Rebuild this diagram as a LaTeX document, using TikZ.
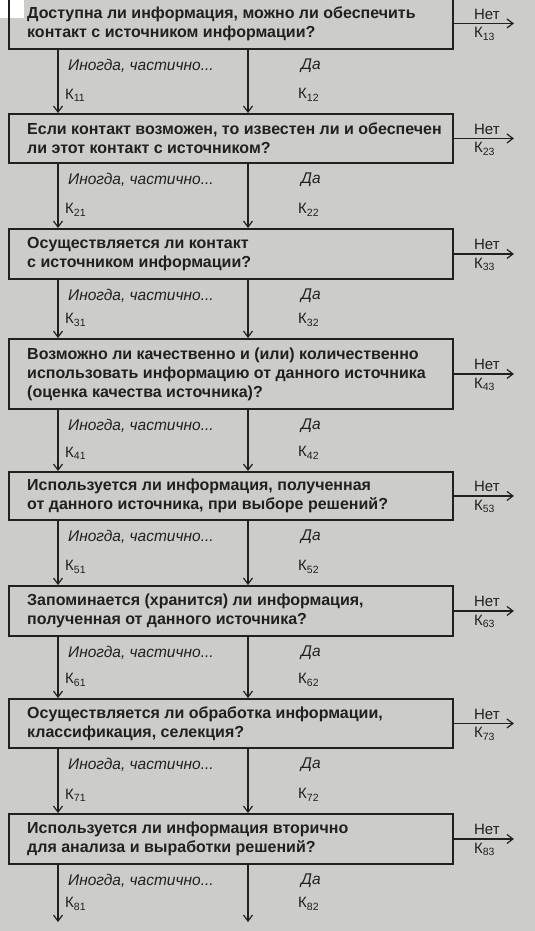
\documentclass[tikz,border=0pt]{standalone}
\usepackage{fontspec}
\setmainfont{Liberation Sans}
\usetikzlibrary{arrows.meta,positioning,calc}
\definecolor{scan}{RGB}{204,204,201}
\definecolor{ink}{RGB}{32,32,32}

\tikzset{
  qbox/.style={draw=ink, line width=1.9pt, minimum width=444pt, inner sep=0pt, anchor=north west},
  qtext/.style={anchor=west, align=left, inner sep=0pt, text=ink,
    font=\fontsize{16}{19}\selectfont\bfseries},
  lbl/.style={anchor=west, inner sep=0pt, text=ink, font=\fontsize{15.5}{17}\selectfont\itshape},
  kk/.style={anchor=west, inner sep=0pt, text=ink, font=\fontsize{15}{17}\selectfont},
  flow/.style={draw=ink, line width=1.2pt, ->},
}

\begin{document}
\begin{tikzpicture}[x=1pt,y=-1pt,>={Straight Barb[length=6pt,width=9pt]}]
  \useasboundingbox (0,0) rectangle (535,931);
  \fill[scan] (0,0) rectangle (535,931);
  \fill[white] (0,0) rectangle (24,18);
  % columns
  \coordinate (cl) at (58,0);
  \coordinate (cm) at (248,0);
  \coordinate (ll) at (68,0);
  \coordinate (da) at (301,0);
  \coordinate (kl) at (65,0);
  \coordinate (kd) at (298,0);
  % question boxes with the "Нет" exits
  \foreach \i/\top/\h/\txt in {
    1/-3/51/{Доступна ли информация, можно ли обеспечить\\контакт с источником информации?},
    2/113/49/{Если контакт возможен, то известен ли и обеспечен\\ли этот контакт с источником?},
    3/228/50/{Осуществляется ли контакт\\с источником информации?},
    4/338/70/{Возможно ли качественно и (или) количественно\\использовать информацию от данного источника\\(оценка качества источника)?},
    5/471/48/{Используется ли информация, полученная\\от данного источника, при выборе решений?},
    6/585/50/{Запоминается (хранится) ли информация,\\полученная от данного источника?},
    7/698/49/{Осуществляется ли обработка информации,\\классификация, селекция?},
    8/813/50/{Используется ли информация вторично\\для анализа и выработки решений?}}{
    \node[qbox, minimum height=\h pt] (q\i) at (8,\top) {};
    \coordinate (top\i) at (q\i.north);
    \node[qtext] (t\i) at ([xshift=19pt]q\i.west) {\txt};
    \draw[flow] (q\i.east) -- ([xshift=60pt]q\i.east) coordinate (n\i);
    \node[kk, anchor=south west] (no\i) at ([xshift=20pt,yshift=4pt]q\i.east) {Нет};
    \node[kk, anchor=north west] (k\i3) at ([xshift=20pt,yshift=-4pt]q\i.east) {К\textsubscript{\i3}};
  }
  \coordinate (top9) at (0,922);
  % down arrows
  \foreach \i in {1,...,8} {
    \pgfmathtruncatemacro\j{\i+1}
    \draw[flow] (q\i.south -| cl) -- (top\j -| cl);
    \draw[flow] (q\i.south -| cm) -- (top\j -| cm);
    \node[lbl] (s\i) at ($(q\i.south -| ll)+(0,16)$) {Иногда, частично...};
    \node[lbl] (y\i) at ($(q\i.south -| da)+(0,16)$) {Да};
    \node[kk] (k\i1) at ($(top\j -| kl)+(0,-18)$) {К\textsubscript{\i1}};
    \node[kk] (k\i2) at ($(top\j -| kd)+(0,-18)$) {К\textsubscript{\i2}};
  }
\end{tikzpicture}
\end{document}
